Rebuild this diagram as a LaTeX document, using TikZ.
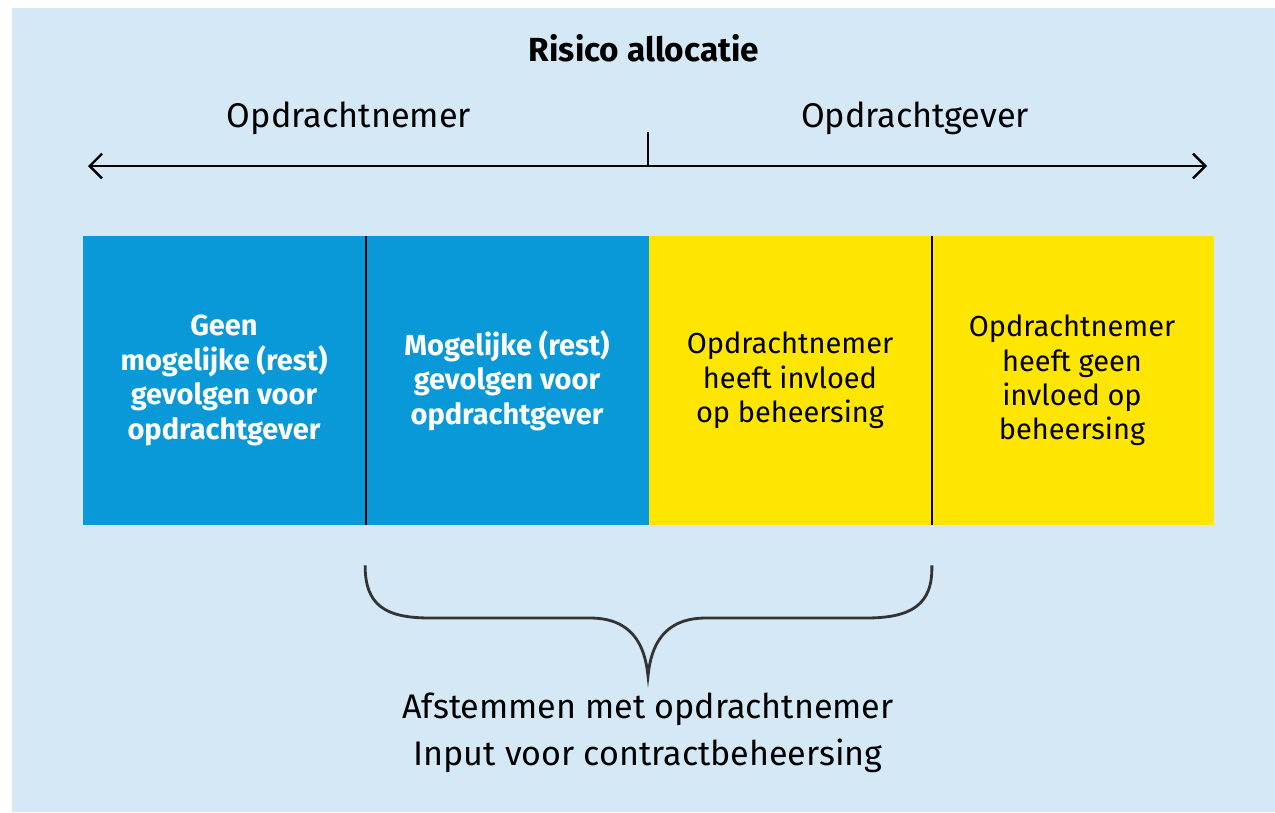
\documentclass[tikz,border=0pt]{standalone}
\usepackage{fontspec}
\setmainfont{Fira Sans}
\usepackage{tikz}
\usetikzlibrary{calc, positioning, arrows.meta}
\definecolor{achter}{HTML}{D4E9F5}
\definecolor{rijkblauw}{HTML}{0A99D8}
\definecolor{rijkgeel}{HTML}{FFE600}

\begin{document}
\begin{tikzpicture}[x=0.02cm,y=-0.02cm,
    vak/.style={minimum width=283*0.02cm, minimum height=289*0.02cm, inner sep=0pt, align=center, font=\fontsize{16.5}{19.6}\selectfont},
    blauwvak/.style={vak, fill=rijkblauw, text=white, font=\fontsize{16.5}{19.6}\selectfont\bfseries},
    geelvak/.style={vak, fill=rijkgeel, text=black}]
    \useasboundingbox (0,0) rectangle (1275,812);
    \fill[achter] (12,8) rectangle (1275,812);
    \node (titel) [font=\fontsize{19}{22}\selectfont\bfseries] at (644,48) {Risico allocatie};
    \node (nemer) [font=\fontsize{19.5}{22}\selectfont] at (349,118) {Opdrachtnemer};
    \node (gever) [font=\fontsize{19.5}{22}\selectfont] at (915,118) {Opdrachtgever};
    \coordinate (links) at (88,166);
    \coordinate (rechts) at (1207,166);
    \coordinate (midden) at (648,166);
    \coordinate (streep) at (648,132);
    \draw[line width=1.4pt, {Straight Barb[length=7pt,width=14pt]}-{Straight Barb[length=7pt,width=14pt]}] (links) -- (rechts);
    \draw[line width=1pt] (midden) -- (streep);
    %vakken
    \node (v1) [blauwvak] at (224,380.5) {Geen\\mogelijke (rest)\\gevolgen voor\\opdrachtgever};
    \node (v2) [blauwvak] at (507,380.5) {Mogelijke (rest)\\gevolgen voor\\opdrachtgever};
    \node (v3) [geelvak] at (790,380.5) {Opdrachtnemer\\heeft invloed\\op beheersing};
    \node (v4) [geelvak] at (1072,380.5) {Opdrachtnemer\\heeft geen\\invloed op\\beheersing};
    \draw[line width=1.2pt] (v1.north east) -- (v1.south east);
    \draw[line width=1.2pt] (v3.north east) -- (v3.south east);
    %accolade
    \coordinate (a1) at ($(v2.south west)+(0,40)$);
    \coordinate (a2) at ($(v3.south east)+(0,40)$);
    \coordinate (punt) at (648,676);
    \draw[line width=1.6pt, draw=black!80] (a1) .. controls (365,605) and (385,618) .. (430,618) -- (590,618) .. controls (632,618) and (645,645) .. (punt)
        .. controls (651,645) and (664,618) .. (706,618) -- (866,618) .. controls (911,618) and (933,605) .. (a2);
    \node (onder) [below=6pt of punt, align=center, font=\fontsize{19.4}{26.8}\selectfont] {Afstemmen met opdrachtnemer\\Input voor contractbeheersing};
\end{tikzpicture}
\end{document}
